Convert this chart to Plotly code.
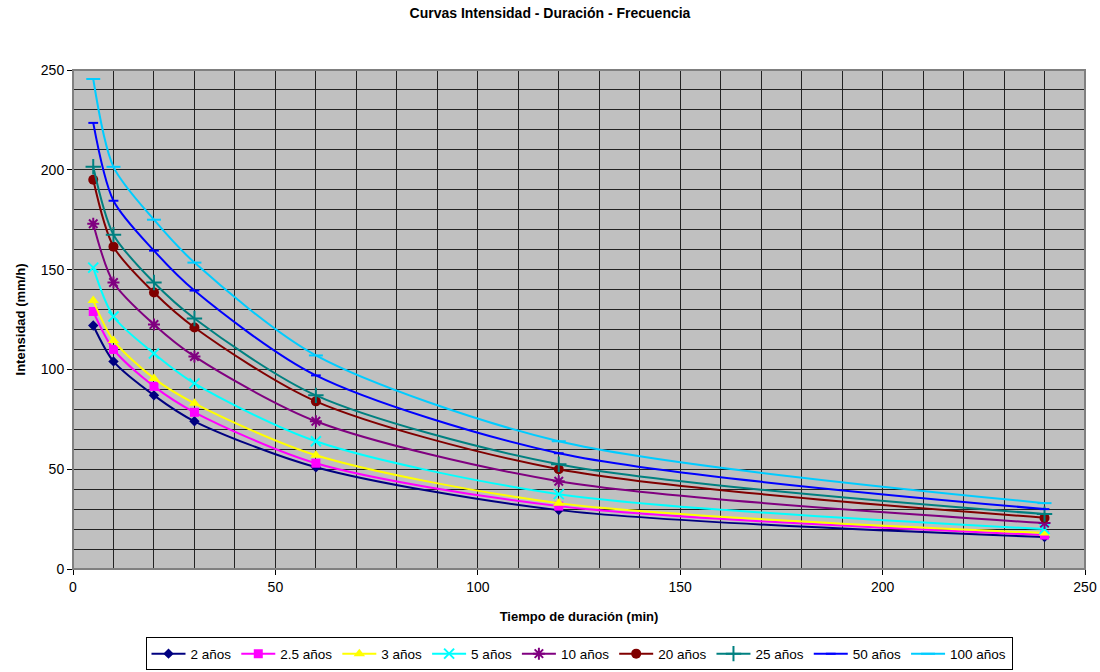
import plotly.graph_objects as go

durations = [5, 10, 20, 30, 60, 120, 240]

series_names = ["2 años", "2.5 años", "3 años", "5 años", "10 años", "20 años", "25 años", "50 años", "100 años"]
i_2 = [122, 104, 87, 74, 51, 29.5, 16]
i_2_5 = [129, 110, 91.5, 78.5, 53, 31.5, 17]
i_3 = [134.5, 114.5, 95.5, 83, 57, 33, 18]
i_5 = [151, 126.5, 108, 93, 64, 37.5, 20]
i_10 = [173, 143.5, 122.5, 106.5, 74, 44, 23]
i_20 = [195, 161.5, 138.5, 121, 84, 50, 25.7]
i_25 = [201.5, 167.5, 143.5, 125.5, 87, 52.5, 27.5]
i_50 = [223.5, 184.5, 159.5, 139.5, 97, 58, 30]
i_100 = [245.5, 201.5, 175, 153.5, 107, 64, 33]
series_values = [i_2, i_2_5, i_3, i_5, i_10, i_20, i_25, i_50, i_100]

colors = ["#000080", "#FF00FF", "#FFFF00", "#00FFFF", "#800080", "#800000", "#008080", "#0000FF", "#00CCFF"]
symbols = ["diamond", "square", "triangle-up", "x-thin", "asterisk", "circle", "cross-thin", "line-ew", "line-ew"]
sizes = [8, 9, 10, 10, 10, 10, 11, 7, 10]

fig = go.Figure()
for name, vals, c, s, sz in zip(series_names, series_values, colors, symbols, sizes):
    open_sym = s in ("x-thin", "asterisk", "cross-thin", "line-ew")
    fig.add_trace(go.Scatter(
        x=durations, y=vals, name=name, mode="lines+markers",
        line=dict(color=c, width=2, shape="spline", smoothing=0.8),
        marker=dict(symbol=s, size=sz, color=c,
                    line=dict(color=c, width=2 if open_sym else 0)),
    ))

fig.update_layout(
    width=1100, height=672,
    margin=dict(l=73, r=15, t=70, b=103, autoexpand=False),
    paper_bgcolor="white", plot_bgcolor="#C0C0C0",
    font=dict(family="Arial, Liberation Sans", size=13, color="black"),
    title=dict(text="<b>Curvas Intensidad - Duración - Frecuencia</b>",
               x=0.5, xanchor="center", y=0.98, yanchor="middle",
               font=dict(size=14)),
    showlegend=True,
    legend=dict(orientation="h", x=0.5, xanchor="center", y=-0.137, yanchor="top",
                bordercolor="black", borderwidth=1, bgcolor="white",
                font=dict(size=13.5), itemwidth=34, tracegroupgap=0),
)
fig.update_xaxes(
    range=[0, 250], dtick=50, tick0=0,
    showgrid=True, gridcolor="#222222", gridwidth=1,
    minor=dict(dtick=10, showgrid=True, gridcolor="#222222", gridwidth=1),
    ticks="outside", ticklen=5, tickcolor="black",
    showline=True, linecolor="black", linewidth=1, mirror=False,
    zeroline=False, tickfont=dict(size=14),
    title=dict(text="<b>Tiempo de duración (min)</b>", font=dict(size=13), standoff=18),
)
fig.update_yaxes(
    range=[0, 250], dtick=50, tick0=0,
    showgrid=True, gridcolor="#222222", gridwidth=1,
    minor=dict(dtick=10, showgrid=True, gridcolor="#222222", gridwidth=1),
    ticks="outside", ticklen=5, tickcolor="black",
    showline=True, linecolor="black", linewidth=1,
    zeroline=False, tickfont=dict(size=14),
    title=dict(text="<b>Intensidad (mm/h)</b>", font=dict(size=13), standoff=12),
)
fig.add_shape(type="rect", xref="paper", yref="paper", x0=0, y0=0, x1=1, y1=1,
              line=dict(color="#808080", width=2), layer="above")
fig.write_html("out.html")
